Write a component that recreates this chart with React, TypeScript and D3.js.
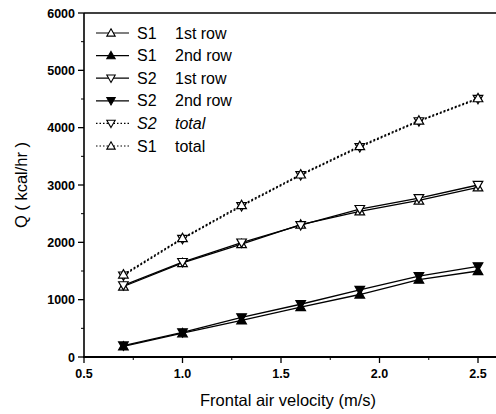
import React from "react";
import * as d3 from "d3";

const velocity = [0.7, 1.0, 1.3, 1.6, 1.9, 2.2, 2.5];
const s1Row1 = [1230, 1640, 1970, 2310, 2540, 2730, 2960];
const s2Row1 = [1250, 1655, 1995, 2300, 2580, 2770, 3000];
const s1Row2 = [185, 415, 640, 870, 1090, 1350, 1500];
const s2Row2 = [200, 430, 690, 920, 1170, 1410, 1580];
const s2Total = [1420, 2060, 2630, 3170, 3660, 4110, 4500];
const s1Total = [1440, 2075, 2650, 3185, 3680, 4125, 4515];
const xTicks = [0.5, 1.0, 1.5, 2.0, 2.5];
const yTicks = [0, 1000, 2000, 3000, 4000, 5000, 6000];

type Series = { name: string; label: string; italic: boolean; values: number[]; up: boolean; filled: boolean; dashed: boolean };
const series: Series[] = [
  { name: "S1", label: "1st row", italic: false, values: s1Row1, up: true, filled: false, dashed: false },
  { name: "S1", label: "2nd row", italic: false, values: s1Row2, up: true, filled: true, dashed: false },
  { name: "S2", label: "1st row", italic: false, values: s2Row1, up: false, filled: false, dashed: false },
  { name: "S2", label: "2nd row", italic: false, values: s2Row2, up: false, filled: true, dashed: false },
  { name: "S2", label: "total", italic: true, values: s2Total, up: false, filled: false, dashed: true },
  { name: "S1", label: "total", italic: false, values: s1Total, up: true, filled: false, dashed: true },
];

const L = 84, R = 478, T = 13, B = 357;
const x = d3.scaleLinear().domain([0.5, 2.5]).range([L, R]);
const y = d3.scaleLinear().domain([0, 6000]).range([B, T]);

function tri(cx: number, cy: number, up: boolean, s = 4.8) {
  const h = s;
  if (up) return `M${cx},${cy - h}L${cx + h},${cy + h * 0.75}L${cx - h},${cy + h * 0.75}Z`;
  return `M${cx},${cy + h}L${cx + h},${cy - h * 0.75}L${cx - h},${cy - h * 0.75}Z`;
}

export default function App() {
  const line = d3.line<number>().x((_, i) => x(velocity[i])).y((d) => y(d));
  const font = "Arial, 'Liberation Sans', sans-serif";
  const yMinor = d3.range(500, 6000, 1000);
  const xMinor = [0.75, 1.25, 1.75, 2.25];
  return (
    <svg width={496} height={414} style={{ position: "absolute", left: 0, top: 0 }} fontFamily={font}>
      <rect width={496} height={414} fill="#fff" />
      <line x1={L} y1={T} x2={496} y2={T} stroke="#000" strokeWidth={1.6} />
      <line x1={L} y1={T} x2={L} y2={B} stroke="#000" strokeWidth={1.6} />
      <line x1={L - 1} y1={B} x2={496} y2={B} stroke="#000" strokeWidth={1.8} />
      {yTicks.map((t) => (
        <g key={t}>
          <line x1={L - 6} x2={L} y1={y(t)} y2={y(t)} stroke="#000" strokeWidth={1.3} />
          <text x={L - 9} y={y(t) + 4.5} textAnchor="end" fontSize={12.5} fontWeight="bold">{t}</text>
        </g>
      ))}
      {yMinor.map((t) => (
        <line key={t} x1={L - 3} x2={L} y1={y(t)} y2={y(t)} stroke="#000" strokeWidth={1} />
      ))}
      {xTicks.map((t) => (
        <g key={t}>
          <line x1={x(t)} x2={x(t)} y1={B} y2={B + 6} stroke="#000" strokeWidth={1.3} />
          <text x={x(t)} y={B + 21} textAnchor="middle" fontSize={12.5} fontWeight="bold">{t.toFixed(1)}</text>
        </g>
      ))}
      {xMinor.map((t) => (
        <line key={t} x1={x(t)} x2={x(t)} y1={B} y2={B + 3} stroke="#000" strokeWidth={1} />
      ))}
      <text x={288} y={406} textAnchor="middle" fontSize={16.5}>Frontal air velocity (m/s)</text>
      <text transform={`translate(27,${(T + B) / 2}) rotate(-90)`} textAnchor="middle" fontSize={16.5}>Q ( kcal/hr )</text>
      {series.map((s, i) => (
        <path key={"l" + i} d={line(s.values) || ""} fill="none" stroke="#000" strokeWidth={1.3}
          strokeDasharray={s.dashed ? "2,2" : undefined} />
      ))}
      {series.map((s, i) => (
        <g key={"m" + i}>
          {s.values.map((v, j) => (
            <path key={j} d={tri(x(velocity[j]), y(v), s.up)} fill={s.filled ? "#000" : "#fff"} stroke="#000" strokeWidth={1.2} />
          ))}
        </g>
      ))}
      {series.map((s, i) => {
        const ly = 33 + i * 22.6;
        return (
          <g key={"g" + i}>
            <line x1={96} x2={129} y1={ly} y2={ly} stroke="#000" strokeWidth={1.2} strokeDasharray={s.dashed ? "1.5,2" : undefined} />
            <path d={tri(111, ly, s.up, 4.2)} fill={s.filled ? "#000" : "#fff"} stroke="#000" strokeWidth={1.1} />
            <text x={137} y={ly + 5.5} fontSize={16} fontStyle={s.italic ? "italic" : "normal"}>{s.name}</text>
            <text x={175} y={ly + 5.5} fontSize={16} fontStyle={s.italic ? "italic" : "normal"}>{s.label}</text>
          </g>
        );
      })}
    </svg>
  );
}
